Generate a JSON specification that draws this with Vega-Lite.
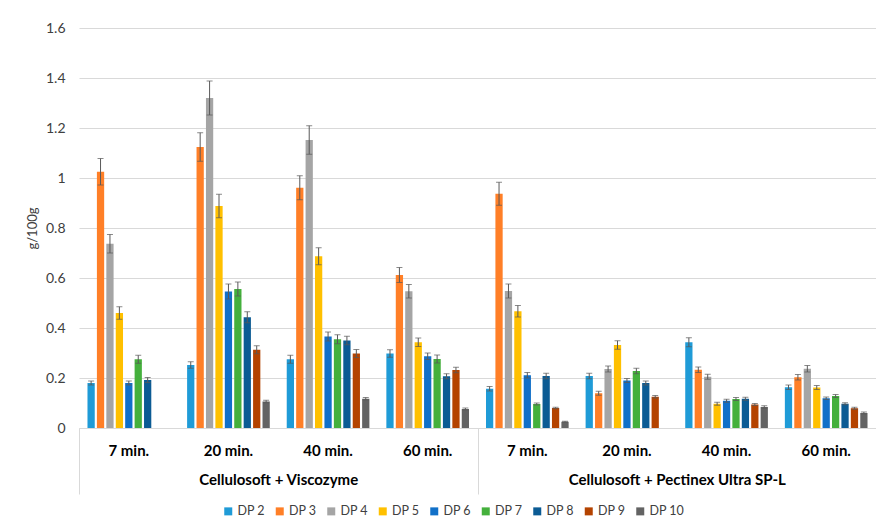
{
  "$schema": "https://vega.github.io/schema/vega-lite/v6.json",
  "width": 797,
  "height": 400,
  "autosize": "none",
  "padding": {"left": 79, "top": 28, "right": 0, "bottom": 100},
  "config": {
    "font": "Lato",
    "view": {"stroke": null},
    "axis": {"labelFont": "Lato", "titleFont": "Lato"},
    "legend": {"labelFont": "Lato"}
  },
  "data": {
    "values": [
      {"enzyme": "Cellulosoft + Viscozyme", "time": "7 min.", "dp": "DP 2", "value": 0.18, "err": 0.008},
      {"enzyme": "Cellulosoft + Viscozyme", "time": "7 min.", "dp": "DP 3", "value": 1.025, "err": 0.053},
      {"enzyme": "Cellulosoft + Viscozyme", "time": "7 min.", "dp": "DP 4", "value": 0.737, "err": 0.037},
      {"enzyme": "Cellulosoft + Viscozyme", "time": "7 min.", "dp": "DP 5", "value": 0.46, "err": 0.025},
      {"enzyme": "Cellulosoft + Viscozyme", "time": "7 min.", "dp": "DP 6", "value": 0.18, "err": 0.008},
      {"enzyme": "Cellulosoft + Viscozyme", "time": "7 min.", "dp": "DP 7", "value": 0.275, "err": 0.016},
      {"enzyme": "Cellulosoft + Viscozyme", "time": "7 min.", "dp": "DP 8", "value": 0.192, "err": 0.01},

      {"enzyme": "Cellulosoft + Viscozyme", "time": "20 min.", "dp": "DP 2", "value": 0.252, "err": 0.013},
      {"enzyme": "Cellulosoft + Viscozyme", "time": "20 min.", "dp": "DP 3", "value": 1.124, "err": 0.057},
      {"enzyme": "Cellulosoft + Viscozyme", "time": "20 min.", "dp": "DP 4", "value": 1.32, "err": 0.068},
      {"enzyme": "Cellulosoft + Viscozyme", "time": "20 min.", "dp": "DP 5", "value": 0.888, "err": 0.047},
      {"enzyme": "Cellulosoft + Viscozyme", "time": "20 min.", "dp": "DP 6", "value": 0.546, "err": 0.03},
      {"enzyme": "Cellulosoft + Viscozyme", "time": "20 min.", "dp": "DP 7", "value": 0.556, "err": 0.028},
      {"enzyme": "Cellulosoft + Viscozyme", "time": "20 min.", "dp": "DP 8", "value": 0.443, "err": 0.022},
      {"enzyme": "Cellulosoft + Viscozyme", "time": "20 min.", "dp": "DP 9", "value": 0.313, "err": 0.016},
      {"enzyme": "Cellulosoft + Viscozyme", "time": "20 min.", "dp": "DP 10", "value": 0.106, "err": 0.005},

      {"enzyme": "Cellulosoft + Viscozyme", "time": "40 min.", "dp": "DP 2", "value": 0.275, "err": 0.016},
      {"enzyme": "Cellulosoft + Viscozyme", "time": "40 min.", "dp": "DP 3", "value": 0.961, "err": 0.048},
      {"enzyme": "Cellulosoft + Viscozyme", "time": "40 min.", "dp": "DP 4", "value": 1.152, "err": 0.057},
      {"enzyme": "Cellulosoft + Viscozyme", "time": "40 min.", "dp": "DP 5", "value": 0.687, "err": 0.034},
      {"enzyme": "Cellulosoft + Viscozyme", "time": "40 min.", "dp": "DP 6", "value": 0.366, "err": 0.018},
      {"enzyme": "Cellulosoft + Viscozyme", "time": "40 min.", "dp": "DP 7", "value": 0.355, "err": 0.018},
      {"enzyme": "Cellulosoft + Viscozyme", "time": "40 min.", "dp": "DP 8", "value": 0.35, "err": 0.017},
      {"enzyme": "Cellulosoft + Viscozyme", "time": "40 min.", "dp": "DP 9", "value": 0.298, "err": 0.016},
      {"enzyme": "Cellulosoft + Viscozyme", "time": "40 min.", "dp": "DP 10", "value": 0.117, "err": 0.005},

      {"enzyme": "Cellulosoft + Viscozyme", "time": "60 min.", "dp": "DP 2", "value": 0.298, "err": 0.015},
      {"enzyme": "Cellulosoft + Viscozyme", "time": "60 min.", "dp": "DP 3", "value": 0.612, "err": 0.03},
      {"enzyme": "Cellulosoft + Viscozyme", "time": "60 min.", "dp": "DP 4", "value": 0.547, "err": 0.027},
      {"enzyme": "Cellulosoft + Viscozyme", "time": "60 min.", "dp": "DP 5", "value": 0.343, "err": 0.017},
      {"enzyme": "Cellulosoft + Viscozyme", "time": "60 min.", "dp": "DP 6", "value": 0.287, "err": 0.013},
      {"enzyme": "Cellulosoft + Viscozyme", "time": "60 min.", "dp": "DP 7", "value": 0.276, "err": 0.016},
      {"enzyme": "Cellulosoft + Viscozyme", "time": "60 min.", "dp": "DP 8", "value": 0.207, "err": 0.01},
      {"enzyme": "Cellulosoft + Viscozyme", "time": "60 min.", "dp": "DP 9", "value": 0.232, "err": 0.011},
      {"enzyme": "Cellulosoft + Viscozyme", "time": "60 min.", "dp": "DP 10", "value": 0.076, "err": 0.004},

      {"enzyme": "Cellulosoft + Pectinex Ultra SP-L", "time": "7 min.", "dp": "DP 2", "value": 0.157, "err": 0.009},
      {"enzyme": "Cellulosoft + Pectinex Ultra SP-L", "time": "7 min.", "dp": "DP 3", "value": 0.937, "err": 0.046},
      {"enzyme": "Cellulosoft + Pectinex Ultra SP-L", "time": "7 min.", "dp": "DP 4", "value": 0.548, "err": 0.028},
      {"enzyme": "Cellulosoft + Pectinex Ultra SP-L", "time": "7 min.", "dp": "DP 5", "value": 0.467, "err": 0.023},
      {"enzyme": "Cellulosoft + Pectinex Ultra SP-L", "time": "7 min.", "dp": "DP 6", "value": 0.211, "err": 0.011},
      {"enzyme": "Cellulosoft + Pectinex Ultra SP-L", "time": "7 min.", "dp": "DP 7", "value": 0.096, "err": 0.004},
      {"enzyme": "Cellulosoft + Pectinex Ultra SP-L", "time": "7 min.", "dp": "DP 8", "value": 0.208, "err": 0.011},
      {"enzyme": "Cellulosoft + Pectinex Ultra SP-L", "time": "7 min.", "dp": "DP 9", "value": 0.08, "err": 0.003},
      {"enzyme": "Cellulosoft + Pectinex Ultra SP-L", "time": "7 min.", "dp": "DP 10", "value": 0.025, "err": 0.002},

      {"enzyme": "Cellulosoft + Pectinex Ultra SP-L", "time": "20 min.", "dp": "DP 2", "value": 0.208, "err": 0.011},
      {"enzyme": "Cellulosoft + Pectinex Ultra SP-L", "time": "20 min.", "dp": "DP 3", "value": 0.139, "err": 0.008},
      {"enzyme": "Cellulosoft + Pectinex Ultra SP-L", "time": "20 min.", "dp": "DP 4", "value": 0.236, "err": 0.012},
      {"enzyme": "Cellulosoft + Pectinex Ultra SP-L", "time": "20 min.", "dp": "DP 5", "value": 0.332, "err": 0.017},
      {"enzyme": "Cellulosoft + Pectinex Ultra SP-L", "time": "20 min.", "dp": "DP 6", "value": 0.19, "err": 0.008},
      {"enzyme": "Cellulosoft + Pectinex Ultra SP-L", "time": "20 min.", "dp": "DP 7", "value": 0.228, "err": 0.011},
      {"enzyme": "Cellulosoft + Pectinex Ultra SP-L", "time": "20 min.", "dp": "DP 8", "value": 0.18, "err": 0.008},
      {"enzyme": "Cellulosoft + Pectinex Ultra SP-L", "time": "20 min.", "dp": "DP 9", "value": 0.125, "err": 0.005},

      {"enzyme": "Cellulosoft + Pectinex Ultra SP-L", "time": "40 min.", "dp": "DP 2", "value": 0.343, "err": 0.018},
      {"enzyme": "Cellulosoft + Pectinex Ultra SP-L", "time": "40 min.", "dp": "DP 3", "value": 0.233, "err": 0.011},
      {"enzyme": "Cellulosoft + Pectinex Ultra SP-L", "time": "40 min.", "dp": "DP 4", "value": 0.205, "err": 0.01},
      {"enzyme": "Cellulosoft + Pectinex Ultra SP-L", "time": "40 min.", "dp": "DP 5", "value": 0.097, "err": 0.006},
      {"enzyme": "Cellulosoft + Pectinex Ultra SP-L", "time": "40 min.", "dp": "DP 6", "value": 0.109, "err": 0.006},
      {"enzyme": "Cellulosoft + Pectinex Ultra SP-L", "time": "40 min.", "dp": "DP 7", "value": 0.116, "err": 0.006},
      {"enzyme": "Cellulosoft + Pectinex Ultra SP-L", "time": "40 min.", "dp": "DP 8", "value": 0.117, "err": 0.006},
      {"enzyme": "Cellulosoft + Pectinex Ultra SP-L", "time": "40 min.", "dp": "DP 9", "value": 0.094, "err": 0.004},
      {"enzyme": "Cellulosoft + Pectinex Ultra SP-L", "time": "40 min.", "dp": "DP 10", "value": 0.084, "err": 0.005},

      {"enzyme": "Cellulosoft + Pectinex Ultra SP-L", "time": "60 min.", "dp": "DP 2", "value": 0.163, "err": 0.009},
      {"enzyme": "Cellulosoft + Pectinex Ultra SP-L", "time": "60 min.", "dp": "DP 3", "value": 0.203, "err": 0.011},
      {"enzyme": "Cellulosoft + Pectinex Ultra SP-L", "time": "60 min.", "dp": "DP 4", "value": 0.237, "err": 0.013},
      {"enzyme": "Cellulosoft + Pectinex Ultra SP-L", "time": "60 min.", "dp": "DP 5", "value": 0.162, "err": 0.008},
      {"enzyme": "Cellulosoft + Pectinex Ultra SP-L", "time": "60 min.", "dp": "DP 6", "value": 0.119, "err": 0.005},
      {"enzyme": "Cellulosoft + Pectinex Ultra SP-L", "time": "60 min.", "dp": "DP 7", "value": 0.128, "err": 0.006},
      {"enzyme": "Cellulosoft + Pectinex Ultra SP-L", "time": "60 min.", "dp": "DP 8", "value": 0.097, "err": 0.004},
      {"enzyme": "Cellulosoft + Pectinex Ultra SP-L", "time": "60 min.", "dp": "DP 9", "value": 0.079, "err": 0.004},
      {"enzyme": "Cellulosoft + Pectinex Ultra SP-L", "time": "60 min.", "dp": "DP 10", "value": 0.06, "err": 0.004}
    ]
  },
  "transform": [
    {"calculate": "datum.enzyme + '|' + datum.time", "as": "run"}
  ],
  "layer": [
    {
      "encoding": {
        "x": {
          "field": "run",
          "type": "nominal",
          "sort": null,
          "scale": {"paddingInner": 0, "paddingOuter": 0},
          "axis": {
            "title": null,
            "labelExpr": "split(datum.value, '|')[1]",
            "labelAngle": 0,
            "labelFontWeight": "bold",
            "labelFontSize": 15,
            "labelColor": "#000000",
            "labelPadding": 15,
            "ticks": false,
            "grid": false,
            "domainColor": "#d9d9d9"
          }
        },
        "xOffset": {
          "field": "dp",
          "type": "nominal",
          "sort": ["DP 2", "DP 3", "DP 4", "DP 5", "DP 6", "DP 7", "DP 8", "DP 9", "DP 10"],
          "scale": {"domain": ["DP 2", "DP 3", "DP 4", "DP 5", "DP 6", "DP 7", "DP 8", "DP 9", "DP 10"], "paddingInner": 0.23, "paddingOuter": 0.9}
        }
      },
      "layer": [
        {
          "mark": {"type": "bar"},
          "encoding": {
            "y": {
              "field": "value",
              "type": "quantitative",
              "scale": {"domain": [0, 1.6]},
              "title": "g/100g",
              "axis": {
                "values": [0, 0.2, 0.4, 0.6, 0.8, 1, 1.2, 1.4, 1.6],
                "format": ".1~f",
                "titleFontSize": 13,
                "titleFontWeight": "normal",
                "titleColor": "#404040",
                "titlePadding": 6,
                "labelFontSize": 14,
                "labelColor": "#404040",
                "labelPadding": 14,
                "ticks": false,
                "domain": false,
                "gridColor": "#d9d9d9"
              }
            },
            "color": {
              "field": "dp",
              "type": "nominal",
              "scale": {
                "domain": ["DP 2", "DP 3", "DP 4", "DP 5", "DP 6", "DP 7", "DP 8", "DP 9", "DP 10"],
                "range": ["#1f9bd7", "#ff7f27", "#a5a5a5", "#ffc000", "#1170c8", "#44b03c", "#0b5b94", "#b44300", "#636363"]
              },
              "legend": {
                "orient": "none",
                "legendX": 143,
                "legendY": 477,
                "direction": "horizontal",
                "title": null,
                "symbolType": "square",
                "symbolSize": 64,
                "symbolStrokeWidth": 0,
                "labelFontSize": 12.5,
                "labelOffset": 3,
                "labelColor": "#404040",
                "columnPadding": 8.5
              }
            }
          }
        },
        {
          "mark": {"type": "errorbar", "ticks": {"size": 6, "color": "#595959"}, "color": "#595959", "thickness": 1},
          "encoding": {
            "y": {"field": "value", "type": "quantitative", "title": "g/100g"},
            "yError": {"field": "err"}
          }
        }
      ]
    },
    {
      "mark": {"type": "point", "opacity": 0},
      "encoding": {
        "x": {
          "field": "enzyme",
          "type": "nominal",
          "sort": null,
          "scale": {"paddingInner": 0, "paddingOuter": 0},
          "axis": {
            "orient": "bottom",
            "title": null,
            "labelAngle": 0,
            "labelLimit": 0,
            "domain": false,
            "grid": false,
            "tickBand": "extent",
            "tickSize": 66,
            "tickColor": "#d9d9d9",
            "labelFontWeight": "bold",
            "labelFontSize": 15,
            "labelColor": "#000000",
            "labelPadding": -22
          }
        }
      }
    }
  ],
  "resolve": {"scale": {"x": "independent"}, "axis": {"x": "independent"}}
}
